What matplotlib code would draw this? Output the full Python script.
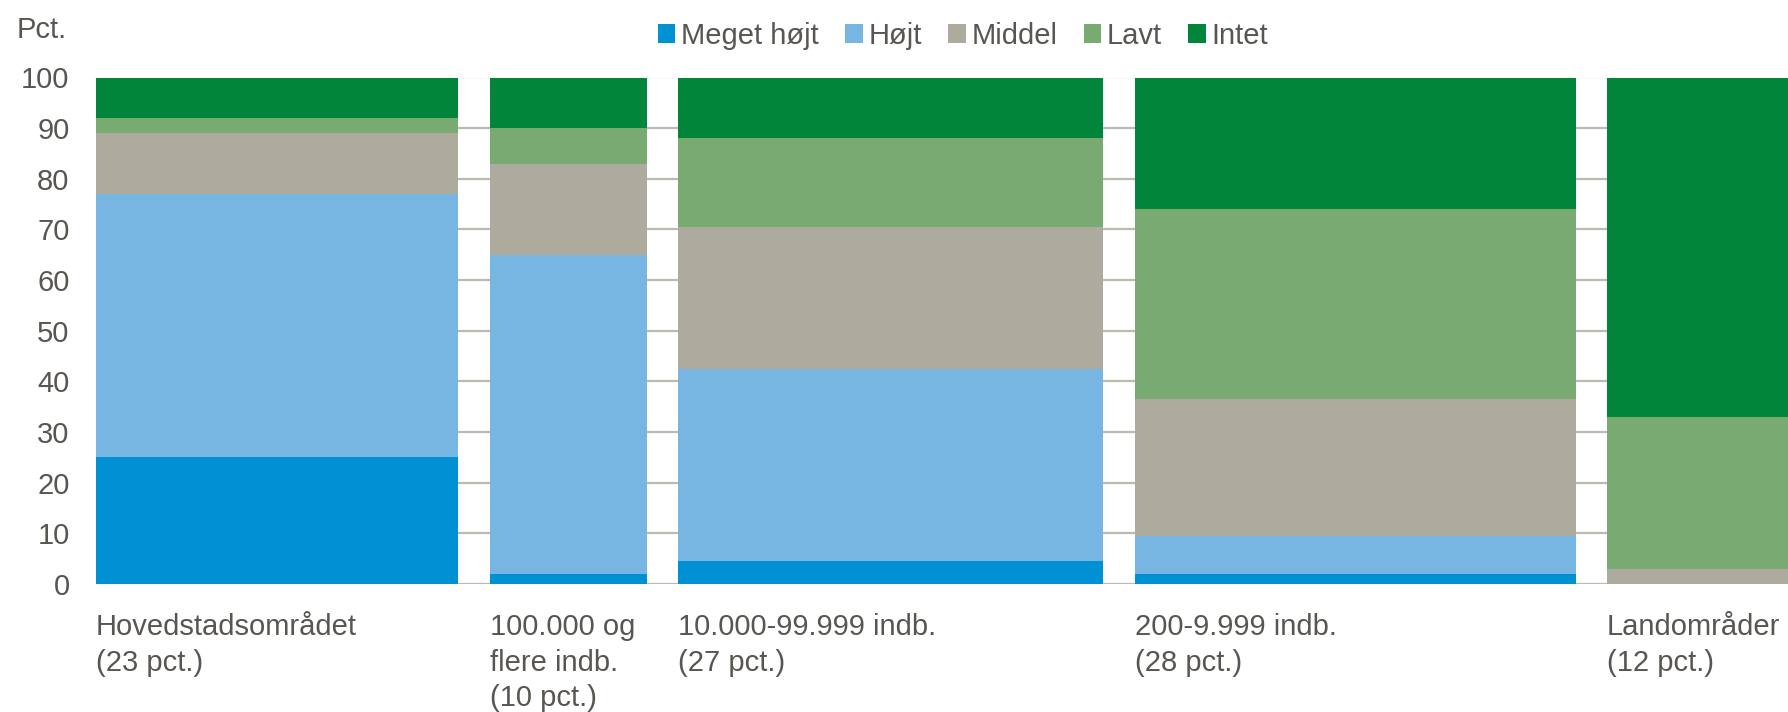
import matplotlib.pyplot as plt
import numpy as np
from matplotlib.font_manager import findfont, FontProperties
from matplotlib.patches import Patch

# Share of population per area type (bar widths) and distribution per level
categories = [
    "Hovedstadsområdet\n(23 pct.)",
    "100.000 og\nflere indb.\n(10 pct.)",
    "10.000-99.999 indb.\n(27 pct.)",
    "200-9.999 indb.\n(28 pct.)",
    "Landområder\n(12 pct.)",
]
shares = [23, 10, 27, 28, 12]

series_names = ["Meget højt", "Højt", "Middel", "Lavt", "Intet"]
meget_hojt = [25, 2, 4.5, 2, 0]
hojt = [52, 63, 38, 7.5, 0]
middel = [12, 18, 28, 27, 3]
lavt = [3, 7, 17.5, 37.5, 30]
intet = [8, 10, 12, 26, 67]

y_ticks = [0, 10, 20, 30, 40, 50, 60, 70, 80, 90, 100]

colors = ["#0090D4", "#77B5E3", "#ADAB9D", "#78AA71", "#00853A"]
text_color = "#595550"
gap = 2.0
fs = 21

# condensed font if available
try:
    findfont(FontProperties(family="Liberation Sans Narrow"), fallback_to_default=False)
    family = ["Liberation Sans Narrow", "DejaVu Sans"]
    fs = 23
except Exception:
    family = ["Liberation Sans", "DejaVu Sans"]
plt.rcParams["font.family"] = family

fig = plt.figure(figsize=(17.88, 7.12), dpi=100)
ax = fig.add_axes([96 / 1788, 128 / 712, 1700 / 1788, 506.5 / 712])

widths = np.array(shares, dtype=float)
lefts = np.concatenate([[0.0], np.cumsum(widths + gap)[:-1]])

bottom = np.zeros(len(shares))
for name, vals, col in zip(series_names, [meget_hojt, hojt, middel, lavt, intet], colors):
    vals = np.array(vals, dtype=float)
    ax.bar(lefts, vals, width=widths, bottom=bottom, align="edge",
           color=col, edgecolor="none", linewidth=0, label=name, zorder=3)
    bottom += vals

ax.set_xlim(0, lefts[-1] + widths[-1])
ax.set_ylim(0, 100)
ax.set_yticks(y_ticks)
ax.set_yticklabels([str(t) for t in y_ticks], fontsize=fs, color=text_color)
ax.tick_params(axis="y", length=0, pad=19)
ax.set_xticks([])
ax.yaxis.grid(True, color="#BDBAB0", linewidth=1.6)
ax.set_axisbelow(True)
for s in ax.spines.values():
    s.set_visible(False)

# category labels under each bar, left aligned with the bar
for left, lab in zip(lefts, categories):
    ax.text(left, -5.8, lab, ha="left", va="top", fontsize=fs,
            color=text_color, linespacing=1.33, clip_on=False)

fig.text(17 / 1788, 1 - 30 / 712, "Pct.", ha="left", va="center",
         fontsize=fs, color=text_color)

handles = [Patch(facecolor=c, edgecolor="none") for c in colors]
fig.legend(handles, series_names, loc="center", bbox_to_anchor=(963 / 1788, 1 - 36 / 712),
           ncol=5, frameon=False, fontsize=fs, handlelength=0.6, handleheight=0.6,
           handletextpad=0.2, columnspacing=0.9, labelcolor=text_color)

fig.savefig("out.png", dpi=100)
